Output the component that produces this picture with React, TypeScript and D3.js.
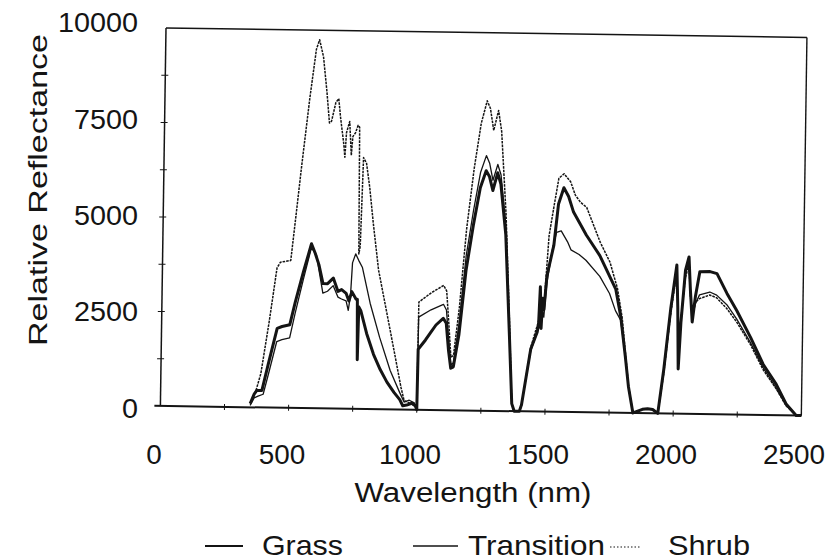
import React from 'react';
import * as d3 from 'd3';

// ---- data (wavelength nm, relative reflectance) ----
const grass: [number, number][] = [
  [350,100],[365,350],[375,450],[395,450],[420,1200],[451,2100],[470,2150],[500,2200],[520,2800],[550,3600],
  [580,4350],[595,4100],[610,3800],[627,3300],[645,3300],[667,3450],[686,3100],[700,3150],[718,3050],[729,2850],
  [740,3100],[757,2900],[762,2900],[765,1300],[768,2700],[776,2600],[800,2000],[828,1450],[855,1050],[882,720],
  [910,450],[933,260],[945,100],[960,120],[980,170],[995,100],[1000,0],
  [1002,1600],[1030,1850],[1050,2050],[1070,2250],[1098,2430],[1110,2300],[1120,1600],[1130,1110],[1140,1150],[1160,2000],
  [1184,3700],[1210,4900],[1235,5900],[1257,6350],[1270,6200],[1284,5830],[1302,6300],[1315,6000],[1337,4670],[1357,2000],
  [1370,200],[1380,0],[1400,0],
  [1408,170],[1441,1650],[1465,2100],[1470,2300],[1475,3300],[1480,2200],[1485,3000],[1490,2700],[1500,3600],[1525,4400],
  [1541,5500],[1561,5930],[1580,5700],[1600,5290],[1625,5000],[1651,4690],[1705,4150],[1769,3270],[1790,2550],[1810,1500],
  [1824,700],[1843,0],[1880,100],[1900,120],[1920,100],[1940,0],
  [1961,1170],[1985,2800],[2006,3930],[2012,2800],[2017,1180],[2025,2400],[2040,3800],[2053,4150],[2060,3300],[2069,2430],
  [2080,3100],[2096,3760],[2136,3770],[2163,3720],[2203,3200],[2242,2750],[2298,2040],[2348,1340],[2400,820],[2440,300],
  [2480,0],[2500,0],
];

const transition: [number, number][] = [
  [350,50],[365,250],[380,300],[400,350],[420,900],[450,1750],[470,1800],[500,1850],[520,2500],[550,3400],
  [580,4250],[600,4050],[627,3050],[645,3100],[667,3250],[686,2950],[700,2900],[718,2850],[727,2600],[735,3000],
  [741,3860],[753,4100],[765,3930],[780,3740],[812,2800],[851,1900],[894,1030],[933,440],[950,200],[970,250],
  [990,180],[1000,0],
  [1002,2450],[1050,2650],[1098,2800],[1110,2650],[1120,1900],[1130,1200],[1140,1250],[1160,2300],[1184,4100],[1210,5300],
  [1235,6300],[1257,6750],[1270,6550],[1284,6100],[1302,6520],[1315,6250],[1337,4900],[1357,2100],[1370,200],[1380,0],[1400,0],
  [1408,170],[1441,1600],[1470,2200],[1480,2800],[1490,2500],[1500,3400],[1520,4300],[1535,4750],[1553,4790],[1580,4480],
  [1592,4290],[1624,4170],[1651,4020],[1706,3600],[1745,3150],[1769,2700],[1790,2450],[1810,1500],[1824,700],[1843,0],
  [1880,100],[1900,120],[1920,100],[1940,0],
  [1961,1100],[1985,2700],[2006,3850],[2012,2900],[2017,1500],[2025,2500],[2040,3700],[2053,4050],[2060,3200],[2069,2550],
  [2080,2900],[2096,3150],[2136,3230],[2163,3150],[2203,2900],[2242,2530],[2298,1900],[2348,1250],[2400,720],[2440,260],
  [2480,0],[2500,0],
];

const shrub: [number, number][] = [
  [350,100],[370,400],[390,900],[420,2300],[447,3700],[460,3850],[500,3900],[515,4900],[537,6400],[565,8200],
  [588,9500],[600,9750],[616,9300],[631,8400],[643,7550],[651,7600],[667,8100],[678,8200],[686,7700],[700,7000],
  [705,6650],[710,7300],[722,7600],[730,6700],[735,7200],[745,7300],[755,7500],[761,7450],[765,4100],[770,4300],
  [778,6650],[790,6500],[804,5850],[820,4900],[843,3680],[878,2540],[910,1490],[937,590],[950,240],[970,180],
  [990,120],[1000,0],
  [1002,2850],[1050,3100],[1098,3300],[1110,3150],[1120,2300],[1130,1400],[1140,1450],[1160,2700],[1184,4800],[1210,6400],
  [1235,7600],[1257,8200],[1270,8000],[1284,7420],[1302,7950],[1315,7400],[1337,5200],[1357,2300],[1370,200],[1380,0],[1400,0],
  [1408,150],[1441,1700],[1470,2400],[1480,3000],[1490,2800],[1506,4660],[1525,5500],[1541,6180],[1561,6300],[1587,6090],
  [1606,5740],[1627,5550],[1651,5420],[1706,4500],[1745,3980],[1776,3280],[1796,2500],[1824,740],[1843,0],
  [1880,100],[1900,120],[1920,100],[1940,0],
  [1961,1050],[1985,2650],[2006,3750],[2012,2950],[2017,1600],[2025,2500],[2040,3600],[2053,3950],[2060,3150],[2069,2600],
  [2080,2950],[2096,3050],[2136,3150],[2163,3080],[2203,2800],[2242,2450],[2298,1850],[2348,1200],[2400,700],[2440,250],
  [2480,0],[2500,0],
];

const xTickValues = [0, 500, 1000, 1500, 2000, 2500];
const yTickValues = [0, 2500, 5000, 7500, 10000];
const xMinorTicks = [250, 500, 750, 1000, 1250, 1500, 1750, 2000, 2250];
const yMinorTicks = [1250, 2500, 3750, 5000, 6250, 7500, 8750];
const legendLabels = ['Grass', 'Transition', 'Shrub'];

const FONT = '"Liberation Sans", Arial, Helvetica, sans-serif';
const INK = '#141414';

export default function App() {
  const left = 166, top = 28, right = 807, bottom = 406;
  const x = d3.scaleLinear().domain([0, 2500]).range([left, right]);
  const y = d3.scaleLinear().domain([0, 10000]).range([bottom, top]);
  // label positions (scanned figure: labels sit slightly offset from the tilted frame)
  const xLab = d3.scaleLinear().domain([0, 2500]).range([154, 794]);
  const yLab = d3.scaleLinear().domain([0, 10000]).range([408, 22.5]);

  const line = d3.line<[number, number]>().x(d => x(d[0])).y(d => y(d[1]));

  return (
    <svg width={833} height={560} style={{ position: 'fixed', left: 0, top: 0, background: '#fff' }}
      fontFamily={FONT}>
      <rect x={0} y={0} width={833} height={560} fill="#fff" />
      <g transform={`rotate(0.85, ${left}, ${top})`}>
        {/* frame */}
        <line x1={left} y1={top} x2={right} y2={top} stroke={INK} strokeWidth={1.5} />
        <line x1={right} y1={top} x2={right} y2={bottom} stroke={INK} strokeWidth={1.4} />
        <line x1={left} y1={top} x2={left} y2={bottom} stroke={INK} strokeWidth={1.5} />
        <line x1={left - 6} y1={bottom} x2={right} y2={bottom} stroke={INK} strokeWidth={2} />
        {yMinorTicks.map(v => (
          <line key={'yt' + v} x1={left - 4} x2={left + 3} y1={y(v)} y2={y(v)} stroke={INK} strokeWidth={1} />
        ))}
        {xMinorTicks.map(v => (
          <line key={'xt' + v} x1={x(v)} x2={x(v)} y1={bottom - 3} y2={bottom + 3} stroke={INK} strokeWidth={1} />
        ))}
        {/* series */}
        <path d={line(shrub) || ''} fill="none" stroke={INK} strokeWidth={1.5} strokeDasharray="2.6,1" strokeLinejoin="round" />
        <path d={line(transition) || ''} fill="none" stroke={INK} strokeWidth={1.3} strokeLinejoin="round" />
        <path d={line(grass) || ''} fill="none" stroke={INK} strokeWidth={3} strokeLinejoin="round" />
      </g>

      {/* y tick labels */}
      {yTickValues.map(v => (
        <text key={'yl' + v} x={138} y={yLab(v)} dy="0.36em" textAnchor="end" fontSize={27} fill={INK}
          textLength={String(v).length * 16} lengthAdjust="spacingAndGlyphs">{v}</text>
      ))}
      {/* x tick labels */}
      {xTickValues.map(v => (
        <text key={'xl' + v} x={xLab(v)} y={464} textAnchor="middle" fontSize={27} fill={INK}
          textLength={String(v).length * 15.5} lengthAdjust="spacingAndGlyphs">{v}</text>
      ))}
      {/* axis titles */}
      <text x={473} y={502} textAnchor="middle" fontSize={27} fill={INK}
        textLength={237} lengthAdjust="spacingAndGlyphs">Wavelength (nm)</text>
      <text transform="translate(47,190) rotate(-90)" textAnchor="middle" fontSize={26} fill={INK}
        textLength={312} lengthAdjust="spacingAndGlyphs">Relative Reflectance</text>

      {/* legend */}
      <line x1={205} x2={243} y1={546} y2={546} stroke={INK} strokeWidth={2.2} />
      <text x={262} y={555} fontSize={28} fill={INK} textLength={81} lengthAdjust="spacingAndGlyphs">{legendLabels[0]}</text>
      <line x1={413} x2={458} y1={546} y2={546} stroke={INK} strokeWidth={1.4} />
      <text x={468} y={555} fontSize={28} fill={INK} textLength={137} lengthAdjust="spacingAndGlyphs">{legendLabels[1]}</text>
      <line x1={610} x2={640} y1={547} y2={547} stroke={INK} strokeWidth={1.2} strokeDasharray="1.5,2" />
      <text x={668} y={555} fontSize={28} fill={INK} textLength={82} lengthAdjust="spacingAndGlyphs">{legendLabels[2]}</text>
    </svg>
  );
}
